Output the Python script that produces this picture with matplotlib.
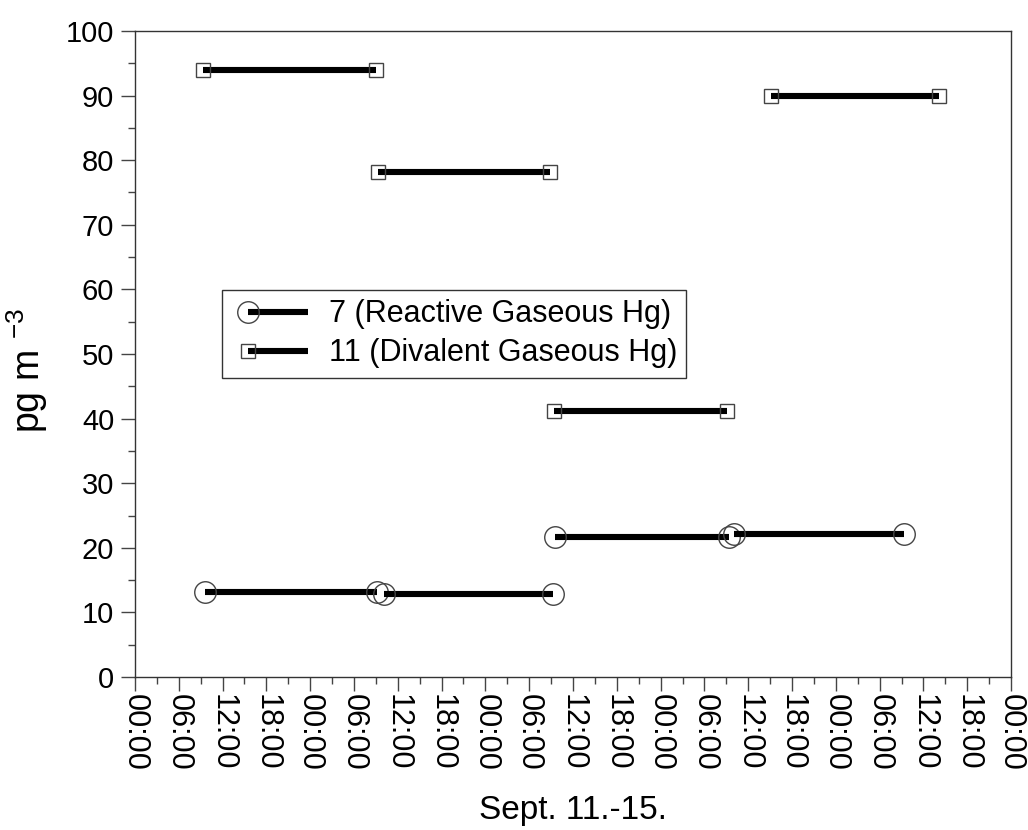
import numpy as np
import matplotlib
matplotlib.use("Agg")
import matplotlib.pyplot as plt
from matplotlib.lines import Line2D
from matplotlib.ticker import MultipleLocator, FuncFormatter
from matplotlib.legend_handler import HandlerLine2D

plt.rcParams["font.family"] = ["Liberation Sans", "DejaVu Sans"]
plt.rcParams["mathtext.fontset"] = "custom"
plt.rcParams["mathtext.rm"] = "Liberation Sans"
plt.rcParams["mathtext.it"] = "Liberation Sans"

# Sampling intervals, hours after Sept. 11 00:00
rgm_start = [9.6, 34.1, 57.6, 82.1]
rgm_end = [33.2, 57.2, 81.4, 105.3]
rgm_value = [13.2, 12.9, 21.7, 22.1]

dgm_start = [9.3, 33.3, 57.4, 87.1]
dgm_end = [33.0, 56.8, 81.1, 110.2]
dgm_value = [94.0, 78.1, 41.1, 90.0]

series = [
    ("7 (Reactive Gaseous Hg)", "o", 15.5, rgm_start, rgm_end, rgm_value),
    ("11 (Divalent Gaseous Hg)", "s", 10.5, dgm_start, dgm_end, dgm_value),
]

x_min, x_max = 0, 120
tick_step = 6


class MarkerAtStart(HandlerLine2D):
    """Legend handle: a line with a single marker on its left end."""

    def create_artists(self, legend, orig_handle, xdescent, ydescent,
                       width, height, fontsize, trans):
        off = 0.55 * fontsize
        x0 = -xdescent + off
        x1 = -xdescent + width
        y = (height - ydescent) / 2.0
        line = Line2D([x0, x1], [y, y])
        self.update_prop(line, orig_handle, legend)
        line.set_marker("None")
        mark = Line2D([x0], [y])
        self.update_prop(mark, orig_handle, legend)
        mark.set_linestyle("None")
        line.set_transform(trans)
        mark.set_transform(trans)
        return [line, mark]


fig = plt.figure(figsize=(10.28, 8.30), dpi=100)
ax = fig.add_axes([0.1313, 0.1843, 0.8522, 0.7784])

handles = []
for label, marker, msize, starts, ends, values in series:
    for i, (s, e, v) in enumerate(zip(starts, ends, values)):
        ln, = ax.plot([s, e], [v, v], color="black", lw=4.4,
                      solid_capstyle="butt",
                      marker=marker, markersize=msize,
                      markerfacecolor="none", markeredgecolor="#444444",
                      markeredgewidth=1.0,
                      label=label if i == 0 else None)
        if i == 0:
            handles.append(ln)

ax.set_xlim(x_min, x_max)
ax.set_ylim(0, 100)

ax.xaxis.set_major_locator(MultipleLocator(tick_step))
ax.xaxis.set_minor_locator(MultipleLocator(tick_step / 2))
ax.xaxis.set_major_formatter(
    FuncFormatter(lambda h, pos: f"{int(round(h)) % 24:02d}:00"))
ax.yaxis.set_major_locator(MultipleLocator(10))
ax.yaxis.set_minor_locator(MultipleLocator(5))

ax.tick_params(which="both", direction="out", color="#444444", width=1.0,
               top=False, right=False)
ax.tick_params(which="major", length=10)
ax.tick_params(which="minor", length=5)
ax.tick_params(axis="x", which="major", labelsize=22, pad=2,
               labelrotation=-90)
ax.tick_params(axis="y", which="major", labelsize=21, pad=5)

for sp in ax.spines.values():
    sp.set_color("#333333")
    sp.set_linewidth(1.0)

ax.set_xlabel("Sept. 11.-15.", fontsize=24)
ax.xaxis.set_label_coords(0.5, -0.183)
ax.set_ylabel(r"pg m $^{\mathregular{-3}}$", fontsize=27)
ax.yaxis.set_label_coords(-0.097, 0.475)

leg = ax.legend(handles=handles, loc="upper left",
                bbox_to_anchor=(0.0993, 0.599), borderaxespad=0,
                fontsize=22, frameon=True, fancybox=False, shadow=False,
                borderpad=0.3, handlelength=2.5, handletextpad=0.7,
                labelspacing=0.3,
                handler_map={Line2D: MarkerAtStart()})
leg.get_frame().set_edgecolor("black")
leg.get_frame().set_linewidth(1.0)

fig.savefig("out.png", dpi=100)
